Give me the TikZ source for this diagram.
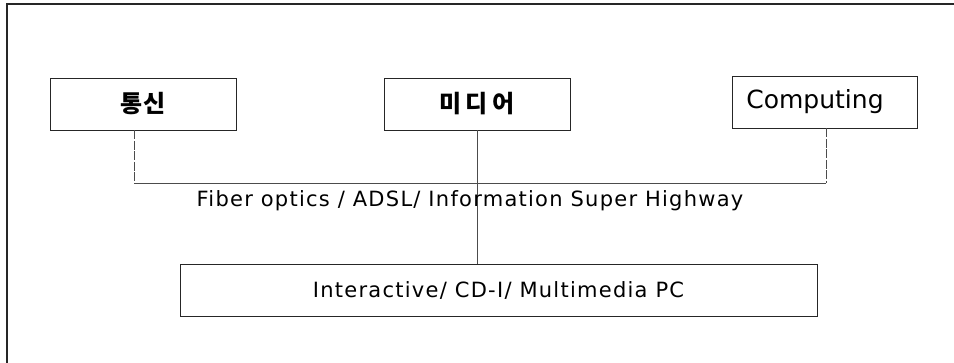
\documentclass[tikz,border=0pt]{standalone}
\usepackage{fontspec}
\setmainfont{DejaVu Sans}
\newfontfamily\krfont{Noto Sans CJK KR}
\newfontfamily\spacedfont[LetterSpace=6]{DejaVu Sans}
\begin{document}
\begin{tikzpicture}[x=1pt,y=-1pt,
  box/.style={draw=black!85,line width=0.9pt,minimum height=52pt,inner sep=0pt},
  conn/.style={draw=black!70,line width=0.7pt},
  side/.style={conn,dash pattern=on 9pt off 1.5pt},
  krlbl/.style={font=\krfont\bfseries\fontsize{24}{26}\selectfont},
  lbl/.style={font=\spacedfont\fontsize{21}{23}\selectfont}]
  \useasboundingbox (0,0) rectangle (954,363);
  % outer frame: top and left edges only
  \draw[black!85,line width=1.6pt] (7,363) -- (7,4) -- (954,4);

  % top row of boxes
  \node[box,minimum width=186pt,krlbl] (tong) at (143,104) {통신};
  \node[box,minimum width=186pt,krlbl] (media) at (477,104) {미\,디\,어};
  \node[box,minimum width=185pt] (comp) at (824.5,102) {};
  \node[font=\fontsize{25}{27}\selectfont] (comptxt) at (815,102) {Computing};

  % bottom box
  \node[box,minimum width=637pt,lbl] (pc) at (498.5,290) {Interactive/ CD-I/ Multimedia PC};

  % shared bus
  \coordinate (bl) at (134,183);
  \coordinate (br) at (826,183);
  \draw[side] (tong.south -| bl) -- (bl);
  \draw[conn] (bl) -- (br);
  \draw[side] (comp.south -| br) -- (br);
  \draw[conn] (media.south) -- (media.south |- pc.north);

  \node[lbl] (bus) at (470,201) {Fiber optics / ADSL/ Information Super Highway};
\end{tikzpicture}
\end{document}
